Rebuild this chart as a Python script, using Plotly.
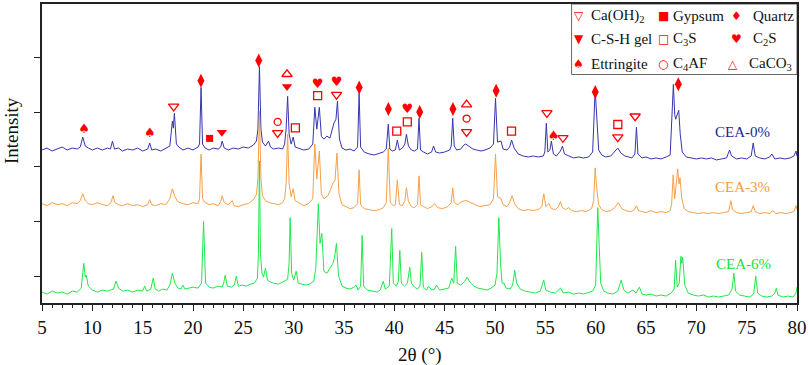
import plotly.graph_objects as go

# ---------------- data: XRD patterns (2theta, intensity, a.u.) ----------------
cea0_points = [
    (5.0,24),(5.5,26),(6.0,23),(6.5,25),(7.0,27),(7.5,24),(8.0,26),(8.5,25),(8.8,27),(9.05,37),(9.3,28),(9.6,26),
    (10.0,24),(10.5,26),(11.0,24),(11.5,26),(11.8,25),(12.0,33),(12.2,25),(12.6,26),(13.0,23),(13.5,25),(14.0,24),
    (14.5,26),(15.0,23),(15.5,25),(15.7,31),(15.9,24),(16.3,25),(16.8,23),(17.3,26),(17.7,28),(17.95,53),(18.05,46),
    (18.15,61),(18.35,30),(18.6,27),(19.0,24),(19.5,26),(20.0,24),(20.5,27),(20.65,30),(20.8,87),(20.95,30),(21.2,26),
    (21.6,24),(22.0,26),(22.5,25),(22.75,27),(22.9,33),(23.1,26),(23.5,24),(24.0,26),(24.5,25),(25.0,27),(25.5,26),
    (26.0,29),(26.3,33),(26.45,45),(26.6,108),(26.75,45),(26.9,32),(27.2,28),(27.5,33),(27.7,27),(28.0,25),(28.5,26),
    (28.9,25),(29.1,30),(29.25,45),(29.4,78),(29.55,40),(29.75,30),(29.95,37),(30.15,27),(30.5,26),(31.0,24),(31.5,25),
    (31.9,30),(32.1,67),(32.3,45),(32.55,67),(32.75,38),(33.0,35),(33.3,38),(33.6,36),(33.85,45),(34.0,51),(34.2,55),
    (34.35,73),(34.55,35),(34.8,26),(35.2,24),(35.6,25),(36.0,23),(36.35,27),(36.5,81),(36.65,27),(37.0,22),(37.5,20),
    (38.0,19),(38.5,21),(38.9,22),(39.2,25),(39.4,50),(39.55,25),(39.8,23),(40.1,24),(40.3,34),(40.5,24),(40.8,26),
    (41.05,30),(41.2,40),(41.4,28),(41.7,24),(42.0,23),(42.3,25),(42.45,56),(42.6,24),(42.9,22),(43.3,20),(43.7,22),
    (43.9,28),(44.1,22),(44.5,21),(45.0,22),(45.5,24),(45.65,28),(45.8,56),(45.95,28),(46.2,24),(46.6,25),(46.9,29),
    (47.1,30),(47.4,28),(47.8,25),(48.2,24),(48.6,23),(49.0,24),(49.5,26),(49.85,30),(50.05,76),(50.25,32),(50.6,33),
    (50.8,25),(51.2,24),(51.45,27),(51.65,34),(51.9,26),(52.3,20),(52.8,18),(53.3,17),(53.8,18),(54.3,17),(54.8,18),
    (54.95,22),(55.1,51),(55.25,22),(55.45,24),(55.6,33),(55.8,20),(56.1,18),(56.5,23),(56.7,28),(56.9,20),(57.3,18),
    (57.8,16),(58.3,17),(58.8,16),(59.3,17),(59.7,22),(59.95,85),(60.1,53),(60.3,24),(60.6,19),(61.0,17),(61.5,18),
    (61.9,22),(62.2,26),(62.5,21),(62.9,18),(63.3,17),(63.6,16),(63.9,20),(64.05,47),(64.2,20),(64.6,16),(65.0,17),
    (65.5,15),(66.0,16),(66.5,15),(67.0,17),(67.4,19),(67.72,90),(67.85,60),(67.95,55),(68.25,64),(68.4,40),(68.6,22),
    (69.0,17),(69.5,16),(70.0,15),(70.5,16),(71.0,15),(71.5,16),(72.0,14),(72.5,15),(73.0,16),(73.3,24),(73.5,18),
    (74.0,15),(74.5,16),(75.0,15),(75.45,18),(75.65,31),(75.85,18),(76.3,16),(76.8,15),(77.3,17),(77.5,20),(77.8,15),
    (78.3,16),(78.8,15),(79.3,16),(79.7,18),(79.9,23),(80.0,18),
]

cea3_points = [
    (5.0,25),(5.5,23),(6.0,26),(6.5,24),(7.0,25),(7.5,23),(8.0,26),(8.5,25),(8.8,28),(9.05,35),(9.3,28),(9.6,25),
    (10.0,24),(10.5,26),(11.0,24),(11.5,23),(11.85,26),(12.05,33),(12.25,26),(12.6,24),(13.0,23),(13.5,25),(14.0,23),
    (14.5,24),(15.0,22),(15.5,24),(15.7,29),(15.9,24),(16.3,23),(16.8,25),(17.3,24),(17.7,30),(17.95,40),(18.2,32),
    (18.5,27),(19.0,25),(19.5,24),(20.0,26),(20.5,25),(20.65,30),(20.8,75),(20.95,30),(21.2,26),(21.6,24),(22.0,25),
    (22.5,23),(22.75,27),(22.9,33),(23.1,26),(23.5,24),(23.9,28),(24.1,23),(24.5,22),(25.0,24),(25.5,25),(26.0,29),
    (26.3,34),(26.45,50),(26.6,118),(26.75,50),(26.9,33),(27.2,28),(27.6,26),(28.0,25),(28.5,24),(28.9,26),(29.1,30),
    (29.25,45),(29.4,95),(29.55,45),(29.75,32),(29.95,40),(30.15,28),(30.5,26),(31.0,23),(31.5,25),(31.9,30),(32.1,85),
    (32.3,50),(32.55,78),(32.75,35),(33.0,30),(33.4,33),(33.7,40),(33.9,46),(34.1,48),(34.3,76),(34.5,35),(34.8,24),
    (35.2,22),(35.6,20),(36.0,21),(36.35,25),(36.5,59),(36.65,24),(37.0,20),(37.5,19),(38.0,18),(38.5,19),(38.9,21),
    (39.2,26),(39.4,81),(39.6,26),(39.9,23),(40.1,24),(40.3,49),(40.5,24),(40.8,23),(41.05,28),(41.2,41),(41.4,27),
    (41.7,22),(42.0,21),(42.3,24),(42.45,53),(42.6,24),(42.9,22),(43.3,20),(43.7,22),(44.0,25),(44.3,21),(44.8,20),
    (45.3,22),(45.65,26),(45.8,41),(45.95,26),(46.3,24),(46.7,27),(47.0,28),(47.2,28),(47.6,26),(48.0,24),(48.5,22),
    (49.0,23),(49.5,24),(49.85,30),(50.05,75),(50.25,32),(50.6,30),(50.8,24),(51.2,22),(51.45,26),(51.7,33),(51.95,25),
    (52.3,20),(52.8,18),(53.3,19),(53.8,18),(54.3,19),(54.65,22),(54.85,35),(55.05,22),(55.35,25),(55.6,20),(56.0,19),
    (56.3,22),(56.5,27),(56.7,21),(57.0,19),(57.3,21),(57.6,18),(58.1,17),(58.6,18),(59.1,17),(59.6,20),(59.8,28),
    (59.95,61),(60.1,41),(60.3,24),(60.6,19),(61.0,17),(61.5,18),(61.9,21),(62.25,26),(62.6,20),(63.0,18),(63.5,17),
    (63.85,19),(64.05,23),(64.25,18),(64.6,17),(65.0,16),(65.5,18),(66.0,16),(66.5,17),(67.0,16),(67.4,18),(67.55,25),
    (67.7,54),(67.85,30),(68.15,60),(68.28,45),(68.38,51),(68.55,30),(68.8,20),(69.2,17),(69.7,16),(70.2,15),(70.7,16),
    (71.2,15),(71.7,16),(72.2,15),(72.7,16),(73.2,17),(73.43,28),(73.6,19),(74.0,16),(74.5,15),(75.0,16),(75.45,17),
    (75.65,23),(75.85,17),(76.3,15),(76.8,16),(77.3,15),(77.6,18),(77.9,15),(78.4,16),(78.9,15),(79.4,16),(79.7,17),
    (79.9,23),(80.0,19),
]

cea6_points = [
    (5.0,21),(5.5,19),(6.0,22),(6.5,20),(7.0,21),(7.5,19),(8.0,22),(8.5,21),(8.9,25),(9.15,50),(9.3,36),(9.4,38),
    (9.6,27),(10.0,23),(10.5,21),(11.0,23),(11.5,22),(12.1,24),(12.35,32),(12.6,25),(13.0,22),(13.5,23),(14.0,21),
    (14.5,23),(15.0,22),(15.2,27),(15.4,22),(15.8,24),(16.05,35),(16.25,24),(16.6,22),(17.0,24),(17.4,23),(17.7,28),
    (17.95,40),(18.2,30),(18.5,25),(18.8,24),(19.0,28),(19.2,24),(19.6,25),(20.0,26),(20.5,25),(20.85,30),(21.05,92),
    (21.25,30),(21.6,26),(22.0,25),(22.5,27),(22.9,26),(23.05,30),(23.2,38),(23.4,27),(23.8,26),(24.1,28),(24.3,37),
    (24.5,27),(24.9,28),(25.3,27),(25.7,29),(26.1,30),(26.4,35),(26.5,60),(26.6,153),(26.7,60),(26.85,40),(27.0,36),
    (27.2,45),(27.4,33),(27.7,31),(28.0,30),(28.5,29),(28.9,31),(29.2,33),(29.4,34),(29.55,50),(29.65,96),(29.8,40),
    (30.0,33),(30.25,42),(30.45,30),(30.8,29),(31.2,28),(31.6,29),(32.0,32),(32.2,45),(32.45,110),(32.62,70),(32.8,80),
    (33.0,42),(33.3,40),(33.6,45),(33.9,50),(34.05,55),(34.25,70),(34.45,38),(34.8,27),(35.2,25),(35.6,24),(36.0,26),
    (36.2,28),(36.4,23),(36.65,27),(36.8,78),(36.95,27),(37.3,23),(37.8,22),(38.3,21),(38.6,23),(38.9,32),(39.1,24),
    (39.5,27),(39.74,85),(39.9,30),(40.2,27),(40.4,32),(40.54,63),(40.7,30),(41.0,27),(41.3,30),(41.53,46),(41.7,30),
    (42.0,26),(42.3,24),(42.55,27),(42.72,61),(42.88,26),(43.2,23),(43.4,27),(43.7,23),(44.0,24),(44.2,28),(44.5,23),
    (45.0,24),(45.4,25),(45.7,35),(45.9,30),(46.09,67),(46.25,30),(46.6,28),(47.0,32),(47.24,36),(47.5,31),(47.9,27),
    (48.3,25),(48.8,24),(49.2,23),(49.6,25),(50.0,28),(50.2,40),(50.38,96),(50.55,50),(50.7,30),(50.9,30),(51.1,25),
    (51.5,24),(51.75,28),(51.96,43),(52.15,30),(52.5,24),(53.0,22),(53.5,21),(54.0,20),(54.5,22),(54.84,33),(55.05,23),
    (55.5,21),(56.0,20),(56.5,25),(56.8,20),(57.3,21),(57.8,19),(58.3,20),(58.8,19),(59.3,21),(59.7,22),(60.0,28),
    (60.21,106),(60.35,68),(60.5,30),(60.8,22),(61.2,20),(61.7,19),(62.2,22),(62.53,33),(62.8,23),(63.2,20),(63.7,23),
    (64.0,20),(64.35,26),(64.6,19),(65.0,18),(65.5,19),(66.0,17),(66.5,18),(67.0,17),(67.5,20),(67.8,24),(67.94,53),
    (68.1,26),(68.3,30),(68.47,57),(68.55,50),(68.65,56),(68.85,28),(69.2,20),(69.7,18),(70.2,17),(70.7,18),(71.2,16),
    (71.7,17),(72.2,16),(72.7,17),(73.2,18),(73.55,24),(73.73,40),(73.9,22),(74.3,18),(74.8,17),(75.3,16),(75.7,19),
    (75.9,37),(76.1,20),(76.5,17),(77.0,16),(77.5,17),(77.8,20),(77.95,25),(78.1,18),(78.6,16),(79.1,17),(79.6,16),
    (79.9,20),(80.0,26),
]

series_names = ["CEA-0%", "CEA-3%", "CEA-6%"]

# phase identification marks: 2theta and marker level (same units as the stacked y axis)
caoh2_2theta = [18.08, 28.41, 34.26, 47.18, 55.16, 56.75, 62.2, 63.92]
caoh2_level = [198, 171.3, 209.7, 172.3, 191.3, 166.3, 167, 188]
gypsum_2theta = [21.65]
gypsum_level = [165.7]
quartz_2theta = [20.79, 26.53, 36.51, 39.41, 42.52, 45.82, 50.11, 59.96, 68.21]
quartz_level = [223.7, 244, 217, 195.3, 192.3, 195.3, 213.7, 212.3, 220.3]
csh_2theta = [22.87, 29.34]
csh_level = [172, 218]
c3s_2theta = [30.17, 32.38, 40.24, 41.29, 51.64, 62.2]
c3s_level = [176.3, 208.7, 173, 182.3, 173, 179.7]
c2s_2theta = [32.38, 34.26, 41.29]
c2s_level = [219.7, 221.3, 194.7]
ettringite_2theta = [9.19, 15.70, 55.83]
ettringite_level = [174.7, 170.3, 167]
c4af_2theta = [28.41, 47.18]
c4af_level = [182.3, 185.7]
caco3_2theta = [29.34, 47.18]
caco3_level = [230.3, 199.7]

x_tick_vals = list(range(5, 81, 5))

# ---------------- styling ----------------
SERIF = "Liberation Serif, Times New Roman, serif"
GLYPH = "DejaVu Sans, sans-serif"
RED = "#ff0000"
offsets = [130, 75, -10]
line_colors = ["#3535b0", "#f7a048", "#1fe84a"]
label_colors = ["#1e1e9a", "#f59a3a", "#16e040"]

fig = go.Figure()

# draw order: blue, orange, green (green on top)
for pts, off, col, name in zip([cea0_points, cea3_points, cea6_points], offsets, line_colors, series_names):
    xs = [p[0] for p in pts]
    ys = [p[1] + off for p in pts]
    fig.add_trace(go.Scatter(x=xs, y=ys, mode="lines", line=dict(color=col, width=1),
                             name=name, showlegend=False, hoverinfo="skip"))

def add_markers(xv, yv, symbol, size, filled):
    fig.add_trace(go.Scatter(
        x=xv, y=yv, mode="markers", showlegend=False, hoverinfo="skip",
        marker=dict(symbol=symbol, size=size, color=RED,
                    line=dict(color=RED, width=0 if filled else 1.3))))

def add_glyphs(xv, yv, glyph, size):
    fig.add_trace(go.Scatter(
        x=xv, y=yv, mode="text", text=[glyph] * len(xv), textposition="middle center",
        textfont=dict(family=GLYPH, size=size, color=RED), showlegend=False, hoverinfo="skip"))

add_markers(caoh2_2theta, caoh2_level, "triangle-down-open", 9, False)
add_markers(gypsum_2theta, gypsum_level, "square", 7, True)
add_markers(quartz_2theta, quartz_level, "diamond-tall", 10, True)
add_markers(csh_2theta, csh_level, "triangle-down", 9, True)
add_markers(c3s_2theta, c3s_level, "square-open", 8, False)
add_glyphs(c2s_2theta, c2s_level, "\u2665", 13)
add_glyphs(ettringite_2theta, ettringite_level, "\u2660", 13)
add_markers(c4af_2theta, c4af_level, "circle-open", 7, False)
add_markers(caco3_2theta, caco3_level, "triangle-up-open", 9, False)

annotations = []
# series labels
label_pos = [(74.6, 172.3), (74.6, 116.3), (74.7, 39.7)]
for (lx, ly), name, col in zip(label_pos, series_names, label_colors):
    annotations.append(dict(x=lx, y=ly, xref="x", yref="y", text=name, showarrow=False,
                            font=dict(family=SERIF, size=15, color=col), xanchor="center", yanchor="middle"))

# axis titles
annotations.append(dict(x=0.5, y=-0.173, xref="paper", yref="paper", text="2θ (°)", showarrow=False,
                        font=dict(family=SERIF, size=19, color="#111"), xanchor="center", yanchor="middle"))
annotations.append(dict(x=-0.041, y=0.575, xref="paper", yref="paper", text="Intensity", showarrow=False,
                        textangle=-90, font=dict(family=SERIF, size=19, color="#111"),
                        xanchor="center", yanchor="middle"))

# legend (manual, 3 x 3)
def px_x(px):
    return (px - 42) / 757.0

def px_y(py):
    return (303 - py) / 301.0

legend_items = [
    ("\u25BD", "Ca(OH)<sub>2</sub>", 580, 590, 14),
    ("\u25A0", "Gypsum", 665, 673, 14),
    ("\u2666", "Quartz", 738, 753, 14),
    ("\u25BC", "C-S-H gel", 580, 590, 37),
    ("\u25A1", "C<sub>3</sub>S", 665, 673, 37),
    ("\u2665", "C<sub>2</sub>S", 738, 753, 37),
    ("\u2660", "Ettringite", 580, 590, 62),
    ("\u25CB", "C<sub>4</sub>AF", 665, 673, 62),
    ("\u25B3", "CaCO<sub>3</sub>", 735, 749, 62),
]
for glyph, label, sx, tx, ry in legend_items:
    annotations.append(dict(x=px_x(sx), y=px_y(ry), xref="paper", yref="paper", text=glyph, showarrow=False,
                            font=dict(family=GLYPH, size=12, color=RED), xanchor="center", yanchor="middle"))
    annotations.append(dict(x=px_x(tx), y=px_y(ry), xref="paper", yref="paper", text=label, showarrow=False,
                            font=dict(family=SERIF, size=15, color="#111"), xanchor="left", yanchor="middle"))

shapes = [dict(type="rect", xref="paper", yref="paper", x0=px_x(573), x1=1.0, y0=px_y(73), y1=1.0,
               line=dict(color="#666", width=1), fillcolor="white", layer="below")]

fig.update_layout(
    width=809, height=365,
    margin=dict(l=42, r=10, t=2, b=62),
    paper_bgcolor="white", plot_bgcolor="white",
    annotations=annotations, shapes=shapes,
    xaxis=dict(range=[5, 80], tickvals=x_tick_vals, ticks="outside", ticklen=6, tickwidth=1.2,
               tickcolor="#222", showline=True, linecolor="#222", linewidth=1.5, mirror=True,
               showgrid=False, zeroline=False,
               tickfont=dict(family=SERIF, size=19, color="#111"),
               minor=dict(dtick=1, ticks="outside", ticklen=3.5, tickwidth=1, tickcolor="#222")),
    yaxis=dict(range=[0, 301], tickvals=[27, 82, 137, 192, 247], showticklabels=False,
               ticks="outside", ticklen=6, tickwidth=1.2, tickcolor="#222",
               showline=True, linecolor="#222", linewidth=1.5, mirror=True,
               showgrid=False, zeroline=False),
)

fig.write_html("out.html", config={"displayModeBar": False},
               post_script="document.body.style.margin='0';document.body.style.overflow='hidden';")
